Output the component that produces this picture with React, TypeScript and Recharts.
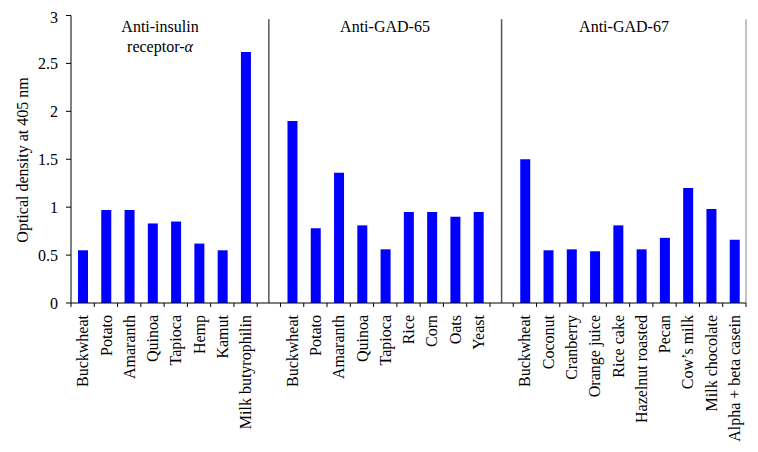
import React from "react";
import { BarChart, Bar, XAxis, YAxis, ReferenceLine } from "recharts";

const groupInsulin = ["Buckwheat", "Potato", "Amaranth", "Quinoa", "Tapioca", "Hemp", "Kamut", "Milk butyrophilin"];
const valuesInsulin = [0.55, 0.97, 0.97, 0.83, 0.85, 0.62, 0.55, 2.62];

const groupGad65 = ["Buckwheat", "Potato", "Amaranth", "Quinoa", "Tapioca", "Rice", "Corn", "Oats", "Yeast"];
const valuesGad65 = [1.9, 0.78, 1.36, 0.81, 0.56, 0.95, 0.95, 0.9, 0.95];

const groupGad67 = ["Buckwheat", "Coconut", "Cranberry", "Orange juice", "Rice cake", "Hazelnut roasted", "Pecan", "Cow\u2019s milk", "Milk chocolate", "Alpha + beta casein"];
const valuesGad67 = [1.5, 0.55, 0.56, 0.54, 0.81, 0.56, 0.68, 1.2, 0.98, 0.66];

const yTicks = [0, 0.5, 1, 1.5, 2, 2.5, 3];

type Row = { key: string; label: string; value: number | null };

const build = (prefix: string, names: string[], vals: number[]): Row[] =>
  names.map((n, i) => ({ key: `${prefix}-${i}`, label: n, value: vals[i] }));

const data: Row[] = [
  ...build("a", groupInsulin, valuesInsulin),
  { key: "gap1", label: "", value: null },
  ...build("b", groupGad65, valuesGad65),
  { key: "gap2", label: "", value: null },
  ...build("c", groupGad67, valuesGad67),
];

const labelByKey: Record<string, string> = {};
data.forEach((d) => (labelByKey[d.key] = d.label));
const lastKey = data[data.length - 1].key;

const FONT = "'Liberation Serif', 'Times New Roman', serif";

const XTick = (props: any) => {
  const { x, y, payload } = props;
  const off = payload.offset || 0;
  const label = labelByKey[payload.value] || "";
  const isLast = payload.value === lastKey;
  return (
    <g>
      <line x1={x - off} x2={x - off} y1={y - 8} y2={y - 4} stroke="#000" strokeWidth={1} />
      {isLast && <line x1={x + off} x2={x + off} y1={y - 8} y2={y - 4} stroke="#000" strokeWidth={1} />}
      <text
        x={x}
        y={y + 4}
        transform={`rotate(-90, ${x}, ${y + 4})`}
        dy="0.35em"
        textAnchor="end"
        fontSize={16}
        fontFamily={FONT}
        fill="#000"
        style={{ fontFamily: FONT }}
      >
        {label}
      </text>
    </g>
  );
};

const YTick = (props: any) => {
  const { x, y, payload } = props;
  return (
    <text
      x={x}
      y={y}
      dy="0.35em"
      textAnchor="end"
      fontSize={16}
      fill="#000"
      style={{ fontFamily: FONT }}
    >
      {payload.value}
    </text>
  );
};

export default function App() {
  return (
    <BarChart
      width={750}
      height={444}
      data={data}
      margin={{ top: 7.5, right: 12, bottom: 0, left: 0 }}
      barSize={10}
      style={{ fontFamily: FONT }}
    >
      <XAxis
        dataKey="key"
        interval={0}
        height={149}
        tickLine={false}
        tickSize={0}
        tickMargin={8}
        tick={<XTick />}
        axisLine={{ stroke: "#000" }}
      />
      <YAxis
        width={63}
        domain={[0, 3]}
        ticks={yTicks}
        tickSize={5}
        tickMargin={8}
        tick={<YTick />}
        axisLine={{ stroke: "#000" }}
        tickLine={{ stroke: "#000" }}
      />
      <ReferenceLine
        segment={[{ x: "gap1", y: 0 }, { x: "gap1", y: 2.96 }]}
        stroke="#555"
        strokeWidth={1.5}
      />
      <ReferenceLine
        segment={[{ x: "gap2", y: 0 }, { x: "gap2", y: 2.96 }]}
        stroke="#555"
        strokeWidth={1.5}
      />
      <ReferenceLine
        segment={[{ x: lastKey, y: 0 }, { x: lastKey, y: 2.96 }]}
        position="end"
        stroke="#888"
        strokeWidth={1}
      />
      <Bar dataKey="value" fill="#0000ff" isAnimationActive={false} />
      <text
        x={14}
        y={152}
        transform="rotate(-90, 14, 152)"
        dy="0.35em"
        textAnchor="middle"
        fontSize={16}
        fill="#000"
        style={{ fontFamily: FONT }}
      >
        Optical density at 405 nm
      </text>
      <text x={152} y={24} textAnchor="middle" fontSize={16} fill="#000" style={{ fontFamily: FONT }}>
        Anti-insulin
      </text>
      <text x={152} y={44} textAnchor="middle" fontSize={16} fill="#000" style={{ fontFamily: FONT }}>
        receptor-<tspan fontStyle="italic">α</tspan>
      </text>
      <text x={377} y={24} textAnchor="middle" fontSize={16} fill="#000" style={{ fontFamily: FONT }}>
        Anti-GAD-65
      </text>
      <text x={616} y={24} textAnchor="middle" fontSize={16} fill="#000" style={{ fontFamily: FONT }}>
        Anti-GAD-67
      </text>
    </BarChart>
  );
}
